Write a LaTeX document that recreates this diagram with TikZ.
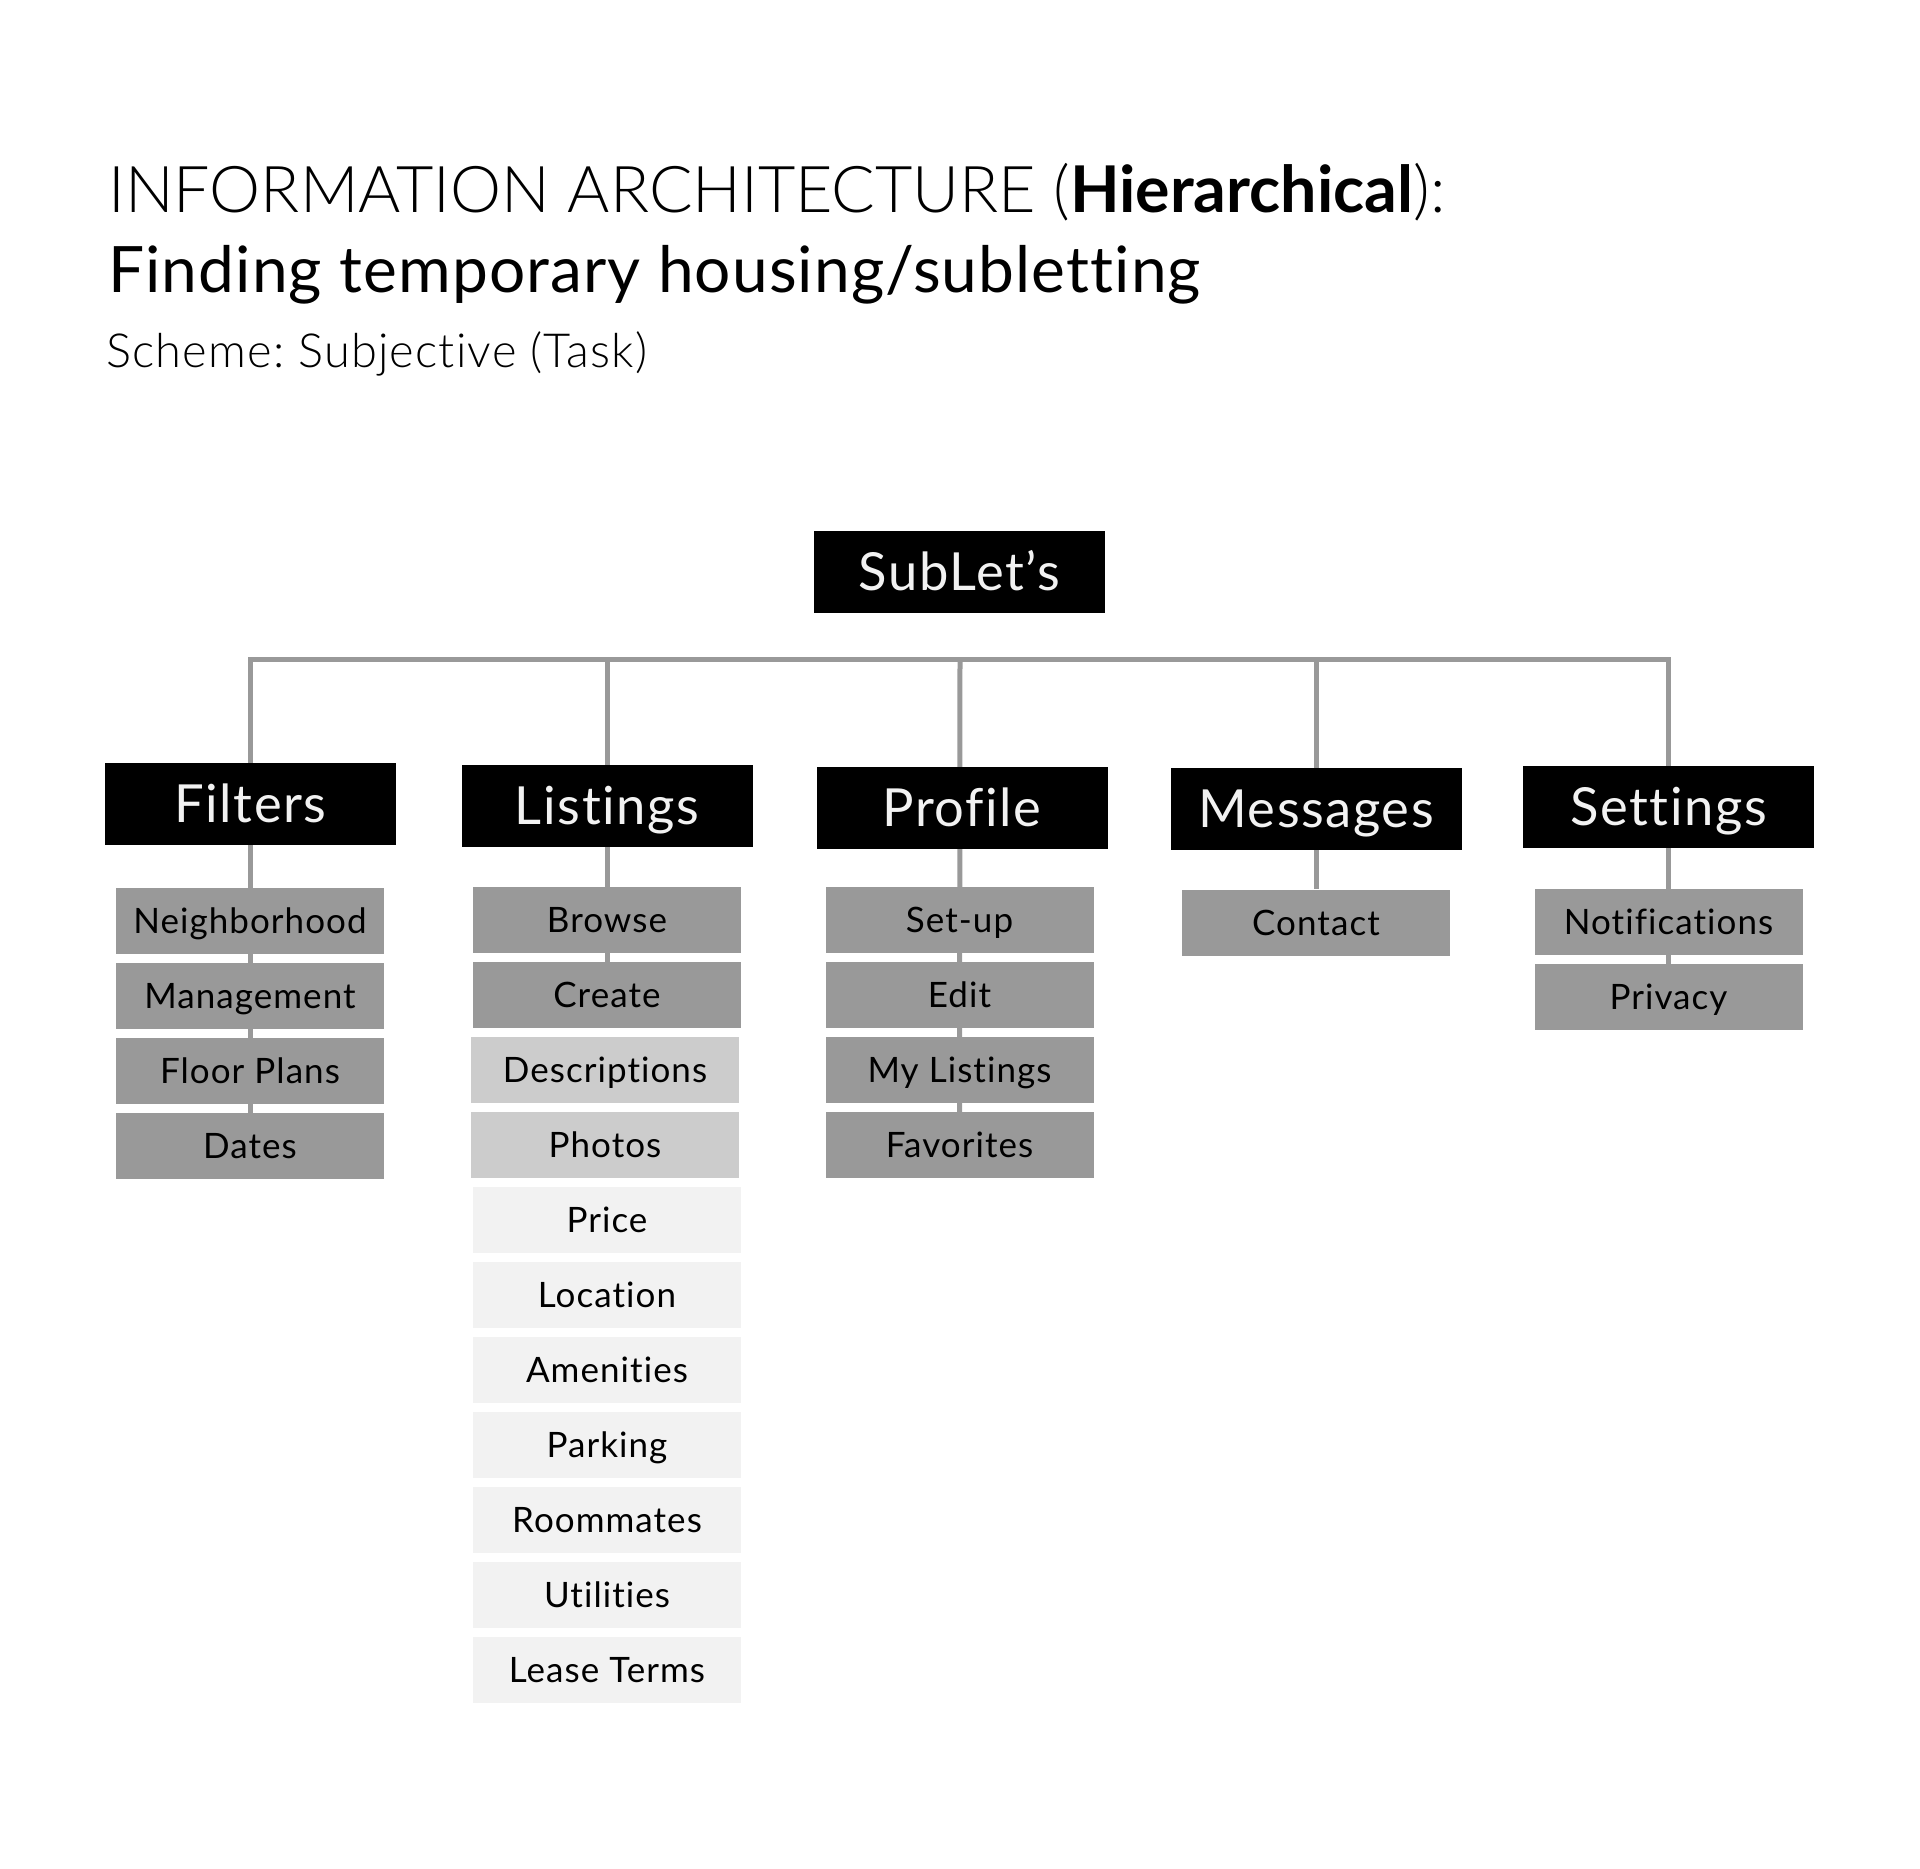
\documentclass[tikz,border=0pt]{standalone}
\usepackage{fontspec}
\setmainfont{Lato}[Ligatures=NoCommon]
\newfontfamily\latolight{Lato Light}[Ligatures=NoCommon]
\usetikzlibrary{backgrounds}
\definecolor{midgray}{HTML}{999999}
\definecolor{lightgray}{HTML}{CCCCCC}
\definecolor{palegray}{HTML}{F2F2F2}
\definecolor{linegray}{HTML}{999999}
\definecolor{toptext}{HTML}{F2F2F2}
\frenchspacing
\begin{document}
\begin{tikzpicture}[x=1pt,y=-1pt,
  topbox/.style={fill=black, text=toptext, minimum width=291pt, minimum height=82pt,
    inner sep=0pt, text height=37pt, text depth=0pt,
    font=\fontsize{52.5}{52.5}\selectfont\addfontfeatures{LetterSpace=3}},
  subbox/.style={fill=midgray, text=black, minimum width=268pt, minimum height=66pt,
    inner sep=0pt, text height=25pt, text depth=0pt,
    font=\fontsize{35}{35}\selectfont\addfontfeatures{LetterSpace=3}},
  lightbox/.style={subbox, fill=lightgray},
  palebox/.style={subbox, fill=palegray},
  conn/.style={draw=linegray, line width=5pt, line join=miter, line cap=butt},
  titletext/.style={anchor=base west, inner sep=0pt, text=black}
]
\useasboundingbox (0,0) rectangle (1920,1869);

% titles
\node[titletext, font=\fontsize{64.5}{64.5}\selectfont] (t1) at (108,212)
  {{\latolight INFORMATION ARCHITECTURE (}\textbf{Hierarchical}{\latolight ):}};
\node[titletext, font=\fontsize{64}{64}\selectfont\addfontfeatures{LetterSpace=1.7}] (t2) at (108,292)
  {Finding temporary housing/subletting};
\node[titletext, font=\fontsize{47}{47}\selectfont\latolight\addfontfeatures{LetterSpace=2.5}] (t3) at (106,367)
  {Scheme: Subjective (Task)};

% root
\node[topbox] (root) at (959.5,572) {SubLet’s};
\coordinate (bus) at (960,659);

% top level
\node[topbox] (f0) at (250.5,804) {Filters};
\node[topbox] (l0) at (607,805.5) {Listings};
\node[topbox] (p0) at (962,807.5) {Profile};
\node[topbox] (m0) at (1316,808.5) {Messages};
\node[topbox] (s0) at (1668.5,806.5) {Settings};

% filters
\node[subbox] (f1) at (250,921) {Neighborhood};
\node[subbox] (f2) at (250,996) {Management};
\node[subbox] (f3) at (250,1071) {Floor Plans};
\node[subbox] (f4) at (250,1146) {Dates};

% listings
\node[subbox] (l1) at (607,920) {Browse};
\node[subbox] (l2) at (607,995) {Create};
\node[lightbox] (l3) at (605,1070) {Descriptions};
\node[lightbox] (l4) at (605,1145) {Photos};
\node[palebox] (l5) at (607,1220) {Price};
\node[palebox] (l6) at (607,1295) {Location};
\node[palebox] (l7) at (607,1370) {Amenities};
\node[palebox] (l8) at (607,1445) {Parking};
\node[palebox] (l9) at (607,1520) {Roommates};
\node[palebox] (l10) at (607,1595) {Utilities};
\node[palebox] (l11) at (607,1670) {Lease Terms};

% profile
\node[subbox] (p1) at (959.5,920) {Set-up};
\node[subbox] (p2) at (959.5,995) {Edit};
\node[subbox] (p3) at (959.5,1070) {My Listings};
\node[subbox] (p4) at (959.5,1145) {Favorites};

% messages
\node[subbox] (m1) at (1316,922.5) {Contact};

% settings
\node[subbox] (s1) at (1668.5,922) {Notifications};
\node[subbox] (s2) at (1668.5,997) {Privacy};

\begin{pgfonlayer}{background}
  \draw[conn] (f4.north) -- (f1.center) -- (f1.center |- bus) -- (s1.center |- bus) -- (s2.north);
  \draw[conn] (l1.center |- bus) -- (l2.north);
  \draw[conn] (bus) -- (p4.north);
  \draw[conn] (m1.center |- bus) -- (m1.north);
\end{pgfonlayer}
\end{tikzpicture}
\end{document}
